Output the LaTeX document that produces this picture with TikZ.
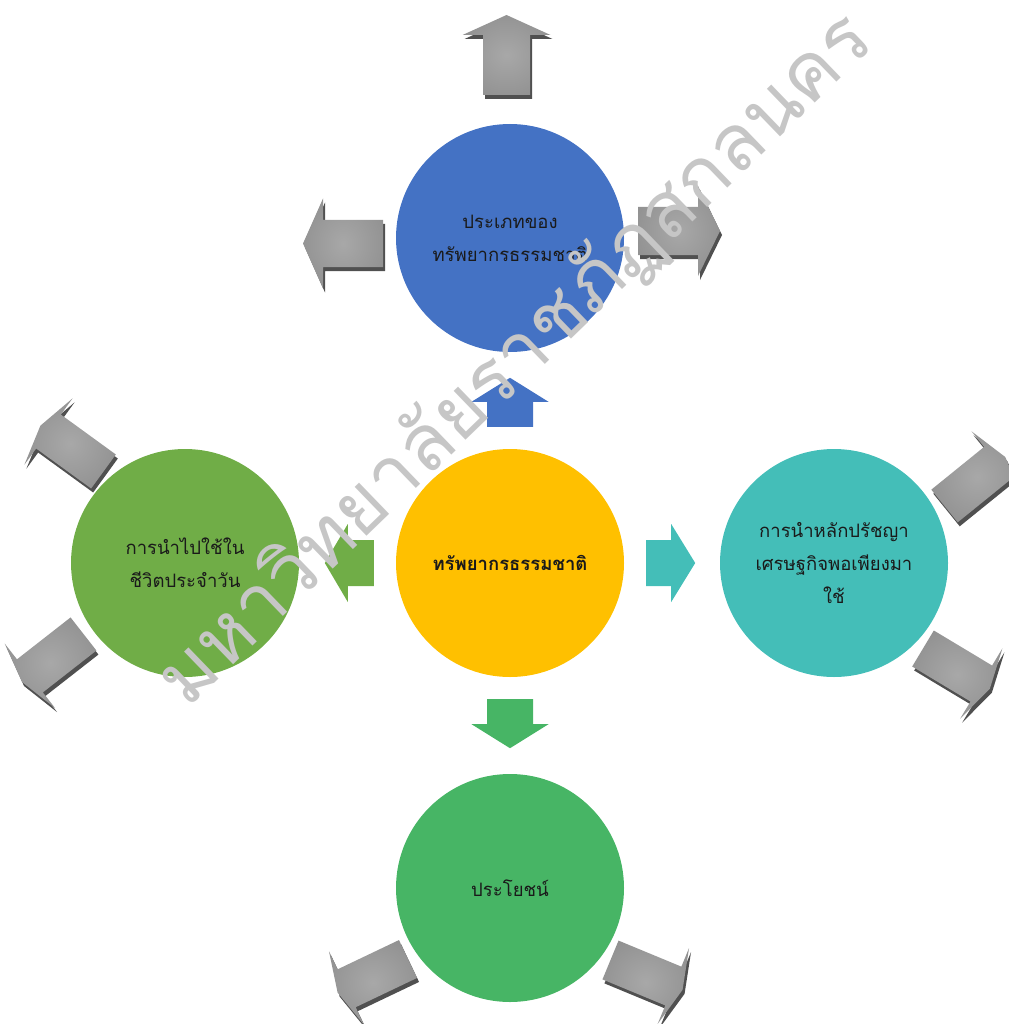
\documentclass[tikz,border=0pt]{standalone}
\usepackage{fontspec}
\newfontfamily\thai[Script=Thai]{Loma}
\usetikzlibrary{calc}
\definecolor{cyellow}{HTML}{FFC000}
\definecolor{cblue}{HTML}{4472C4}
\definecolor{cgreenL}{HTML}{70AD47}
\definecolor{cteal}{HTML}{44BEB8}
\definecolor{cgreenB}{HTML}{47B565}
\definecolor{shadowgray}{HTML}{505050}
\definecolor{gin}{HTML}{A8A8A8}
\definecolor{gout}{HTML}{6C6C6C}
\definecolor{wm}{HTML}{C6C6C6}
\definecolor{txt}{HTML}{1A1A1A}
\pgfdeclareradialshading{garrow}{\pgfpoint{0bp}{0bp}}{color(0bp)=(gin); color(30bp)=(gin!60!gout); color(50bp)=(gout); color(72bp)=(gout)}
\tikzset{
  topic/.style={circle, minimum size=228pt, inner sep=0pt, draw=none, text=txt, align=center,
    font=\thai\fontsize{18.5}{33}\selectfont},
  pics/blockarrow/.style n args={5}{code={
    \path[#5] (0,-#3) -- (#1-#2,-#3) -- (#1-#2,-#4) -- (#1,0) -- (#1-#2,#4) -- (#1-#2,#3) -- (0,#3) -- cycle;}},
}
\begin{document}
\begin{tikzpicture}[x=1pt,y=-1pt]
\useasboundingbox (0,0) rectangle (1008,1024);
% circles
\node[topic, fill=cyellow, font=\thai\bfseries\fontsize{18.5}{33}\selectfont] (C) at (510,563) {ทรัพยากรธรรมชาติ};
\node[topic, fill=cblue] (T) at (510,238) {ประเภทของ\\ทรัพยากรธรรมชาติ};
\node[topic, fill=cgreenL] (L) at (185,563) {การนำไปใช้ใน\\ชีวิตประจำวัน};
\node[topic, fill=cteal] (R) at (834,563) {การนำหลักปรัชญา\\เศรษฐกิจพอเพียงมา\\ใช้};
\node[topic, fill=cgreenB] (B) at (510,888) {ประโยชน์};
% coloured connectors from the centre
\pic[rotate=90]  at ($(C.north)+(0,-22)$) {blockarrow={49}{24}{23}{38.5}{fill=cblue}};
\pic[rotate=180] at ($(C.west)+(-22,0)$)  {blockarrow={49}{23}{23}{39}{fill=cgreenL}};
\pic[rotate=0]   at ($(C.east)+(22,0)$)   {blockarrow={49}{24}{23}{39}{fill=cteal}};
\pic[rotate=-90] at ($(C.south)+(0,22)$)  {blockarrow={49}{24}{23}{38.5}{fill=cgreenB}};
% grey 3-D arrows around the outer circles
\foreach \c/\dx/\dy/\a/\len/\hl/\sw/\hw in {
  T/-3.5/-143/90/80/20/23.5/44,
  T/-127/5.5/180/80/20/23.5/45,
  T/128/-7/0/82/22/24/45,
  L/-81.5/-91.5/144/78/10/21/41,
  L/-101.5/71/218/78/10/21/41,
  R/110.5/-57/39/78/10/21/41,
  R/89/85.5/-31/78/10/21/41,
  B/-102/71/205.5/78/10/21/41,
  B/100.5/72/-22.5/78/10/21/41}{
  \pic[rotate=\a] at ($(\c)+(\dx+2,\dy+4)$) {blockarrow={\len}{\hl}{\sw}{\hw}{fill=shadowgray}};
  \pic[rotate=\a] at ($(\c)+(\dx,\dy)$) {blockarrow={\len}{\hl}{\sw}{\hw}{shade, shading=garrow}};
}
% watermark
\node[rotate=44, text=wm, inner sep=0pt, font=\thai\fontsize{78}{86}\selectfont] (W) at (516,360)
  {มหาวิทยาลัยราชภัฏสกลนคร};
\end{tikzpicture}
\end{document}
